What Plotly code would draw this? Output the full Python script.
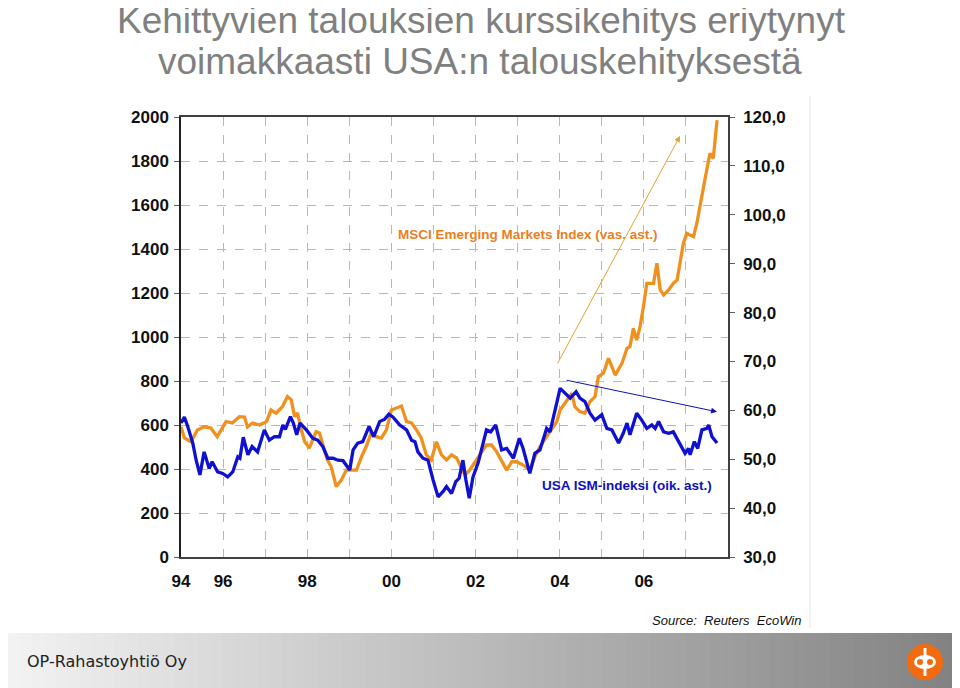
import plotly.graph_objects as go

# ---------------- data ----------------
msci_x = [1995.00, 1995.08, 1995.24, 1995.39, 1995.55, 1995.71, 1995.86, 1996.07, 1996.22, 1996.39,
          1996.51, 1996.58, 1996.70, 1996.87, 1997.03, 1997.14, 1997.26, 1997.41, 1997.53, 1997.62,
          1997.70, 1997.77, 1997.86, 1997.94, 1998.05, 1998.13, 1998.21, 1998.29, 1998.36, 1998.48,
          1998.57, 1998.69, 1998.81, 1998.93, 1999.05, 1999.17, 1999.29, 1999.40, 1999.52, 1999.64,
          1999.76, 1999.88, 2000.00, 2000.12, 2000.24, 2000.36, 2000.48, 2000.60, 2000.71, 2000.83,
          2000.95, 2001.07, 2001.19, 2001.31, 2001.43, 2001.55, 2001.67, 2001.75, 2001.86, 2001.98,
          2002.10, 2002.26, 2002.38, 2002.50, 2002.62, 2002.74, 2002.86, 2002.98, 2003.13, 2003.29,
          2003.41, 2003.53, 2003.69, 2003.93, 2004.01, 2004.17, 2004.29, 2004.36, 2004.48, 2004.60,
          2004.72, 2004.84, 2004.92, 2005.04, 2005.16, 2005.24, 2005.32, 2005.48, 2005.60, 2005.67,
          2005.75, 2005.83, 2005.91, 2005.99, 2006.07, 2006.23, 2006.31, 2006.39, 2006.47, 2006.59,
          2006.70, 2006.79, 2006.86, 2006.94, 2007.02, 2007.10, 2007.18, 2007.26, 2007.34, 2007.45,
          2007.57, 2007.65, 2007.74]
msci_y = [592, 541, 524, 577, 592, 586, 547, 615, 609, 638,
          636, 591, 609, 600, 615, 668, 654, 683, 729, 714,
          638, 654, 577, 524, 495, 532, 570, 564, 518, 441,
          410, 320, 350, 395, 395, 395, 456, 501, 564, 547,
          541, 577, 668, 677, 686, 615, 609, 577, 541, 464,
          441, 524, 464, 441, 464, 450, 405, 373, 395, 433,
          464, 509, 509, 479, 433, 395, 433, 433, 418, 395,
          456, 501, 547, 615, 668, 714, 744, 683, 661, 654,
          706, 729, 820, 835, 903, 865, 827, 880, 949, 956,
          1039, 986, 1047, 1138, 1244, 1244, 1335, 1214, 1191, 1214,
          1244, 1259, 1335, 1426, 1471, 1464, 1456, 1517, 1608, 1714,
          1835, 1812, 1986]

ism_x = [1995.00, 1995.08, 1995.16, 1995.28, 1995.36, 1995.45, 1995.55, 1995.67, 1995.74, 1995.87,
         1995.99, 1996.11, 1996.23, 1996.35, 1996.40, 1996.48, 1996.59, 1996.69, 1996.82, 1996.98,
         1997.10, 1997.22, 1997.34, 1997.42, 1997.48, 1997.60, 1997.67, 1997.75, 1997.83, 1997.98,
         1998.13, 1998.25, 1998.37, 1998.49, 1998.61, 1998.73, 1998.85, 1999.01, 1999.09, 1999.20,
         1999.32, 1999.47, 1999.58, 1999.72, 1999.84, 1999.94, 2000.04, 2000.20, 2000.36, 2000.48,
         2000.56, 2000.63, 2000.75, 2000.87, 2000.99, 2001.11, 2001.23, 2001.31, 2001.43, 2001.53,
         2001.61, 2001.70, 2001.77, 2001.85, 2001.94, 2002.06, 2002.14, 2002.26, 2002.36, 2002.48,
         2002.62, 2002.74, 2002.90, 2003.04, 2003.13, 2003.29, 2003.41, 2003.53, 2003.69, 2003.77,
         2004.01, 2004.13, 2004.25, 2004.39, 2004.48, 2004.60, 2004.72, 2004.84, 2005.00, 2005.12,
         2005.24, 2005.40, 2005.51, 2005.60, 2005.67, 2005.83, 2005.95, 2006.07, 2006.19, 2006.27,
         2006.35, 2006.47, 2006.59, 2006.70, 2006.86, 2006.98, 2007.06, 2007.10, 2007.20, 2007.28,
         2007.38, 2007.50, 2007.54, 2007.62, 2007.74]
ism_y = [57.4, 58.6, 56.7, 53.3, 49.8, 46.8, 51.5, 48.1, 49.5, 47.4,
         47.1, 46.4, 47.4, 50.5, 50.2, 54.5, 50.9, 52.6, 51.5, 56.0,
         53.9, 54.6, 54.6, 57.0, 56.1, 58.7, 57.4, 55.0, 57.4, 56.0,
         54.3, 53.9, 52.6, 50.2, 50.2, 49.8, 49.7, 47.8, 51.9, 53.3,
         53.6, 56.7, 54.6, 57.7, 58.2, 59.2, 58.6, 57.0, 56.0, 53.9,
         53.6, 51.5, 50.2, 49.8, 45.8, 42.3, 43.4, 44.4, 43.0, 45.4,
         46.1, 49.8, 45.8, 42.0, 46.4, 49.2, 51.9, 56.0, 55.6, 57.0,
         51.9, 52.2, 50.2, 54.3, 52.2, 47.1, 51.2, 51.9, 56.3, 55.6,
         64.5, 63.5, 62.5, 63.8, 62.5, 61.8, 59.4, 58.0, 59.1, 56.3,
         56.0, 53.3, 55.3, 57.4, 55.0, 59.4, 58.0, 56.3, 57.0, 56.3,
         57.7, 55.6, 55.3, 55.6, 52.9, 51.2, 52.2, 50.9, 53.6, 52.2,
         56.0, 56.3, 57.0, 54.6, 53.3]

x_tickvals = list(range(1995, 2009))
x_ticktext = ["94", "96", "", "98", "", "00", "", "02", "", "04", "", "06", "", ""]
left_ticks = list(range(0, 2001, 200))
right_ticks = list(range(30, 121, 10))

# trend arrows (start -> end)
msci_arrow = [(2003.93, 873), (2006.86, 1914)]
ism_arrow = [(2004.13, 805), (2007.74, 660)]

ORANGE = "#F0901E"
BLUE = "#1010D0"
FONT = "Liberation Sans, Arial, sans-serif"

fig = go.Figure()
fig.add_trace(go.Scatter(x=msci_x, y=msci_y, mode="lines", line=dict(color=ORANGE, width=3.3),
                         name="MSCI Emerging Markets Index (vas. ast.)", yaxis="y"))
fig.add_trace(go.Scatter(x=ism_x, y=ism_y, mode="lines", line=dict(color=BLUE, width=3.3),
                         name="USA ISM-indeksi (oik. ast.)", yaxis="y2"))

# the page is rendered with an 8px body margin; work in target-pixel coords
OFF = 8
W, H = 960 - OFF, 688 - OFF
L, R, T, B = 181, 728, 117, 557   # target pixel positions of the plot area
pw, ph = R - L, B - T


def px(x):
    return (x - L) / pw


def py(y):
    return (B - y) / ph


shapes = []
# footer gradient
n = 80
c0 = (242, 242, 242)
c1 = (130, 130, 130)
for i in range(n):
    t = i / (n - 1)
    c = tuple(int(round(c0[k] + (c1[k] - c0[k]) * t)) for k in range(3))
    xa = OFF + (960 - OFF) * i / n
    xb = OFF + (960 - OFF) * (i + 1) / n + 0.8
    shapes.append(dict(type="rect", xref="paper", yref="paper",
                       x0=px(xa), x1=px(xb), y0=py(633), y1=py(690),
                       fillcolor="rgb(%d,%d,%d)" % c, line=dict(width=0), layer="below"))
# logo
cx, cy, r = 925, 662, 18
shapes.append(dict(type="circle", xref="paper", yref="paper",
                   x0=px(cx - r), x1=px(cx + r), y0=py(cy + r), y1=py(cy - r),
                   fillcolor="#F26B10", line=dict(width=0)))
shapes.append(dict(type="circle", xref="paper", yref="paper",
                   x0=px(cx - 11), x1=px(cx + 11), y0=py(cy + 7), y1=py(cy - 7),
                   fillcolor="white", line=dict(width=0)))
for dx in (-5, 5):
    shapes.append(dict(type="circle", xref="paper", yref="paper",
                       x0=px(cx + dx - 3), x1=px(cx + dx + 3), y0=py(cy + 3), y1=py(cy - 3),
                       fillcolor="#F26B10", line=dict(width=0)))
shapes.append(dict(type="rect", xref="paper", yref="paper",
                   x0=px(cx - 1.5), x1=px(cx + 1.5), y0=py(cy + 14), y1=py(cy - 14),
                   fillcolor="white", line=dict(width=0)))
# slide separator line
shapes.append(dict(type="line", xref="paper", yref="paper",
                   x0=px(810), x1=px(810), y0=py(96), y1=py(628),
                   line=dict(color="#e4e4e4", width=1)))

annotations = [
    dict(text="Kehittyvien talouksien kurssikehitys eriytynyt", xref="paper", yref="paper",
         x=px(481), y=py(20), yanchor="middle", showarrow=False,
         font=dict(family=FONT, size=37, color="#808080")),
    dict(text="voimakkaasti USA:n talouskehityksestä", xref="paper", yref="paper",
         x=px(480), y=py(61), yanchor="middle", showarrow=False,
         font=dict(family=FONT, size=37, color="#808080")),
    dict(text="<b>MSCI Emerging Markets Index (vas. ast.)</b>", xref="x", yref="y",
         x=2000.10, y=1464, xanchor="left", yanchor="middle", showarrow=False,
         font=dict(family=FONT, size=13.5, color="#E8801E")),
    dict(text="<b>USA ISM-indeksi (oik. ast.)</b>", xref="x", yref="y",
         x=2003.53, y=323, xanchor="left", yanchor="middle", showarrow=False,
         font=dict(family=FONT, size=13.5, color="#1010C0")),
    dict(text="<i>Source:  Reuters  EcoWin</i>", xref="paper", yref="paper",
         x=px(803), y=py(620), xanchor="right", yanchor="middle", showarrow=False,
         font=dict(family=FONT, size=13, color="#111111")),
    dict(text="OP-Rahastoyhtiö Oy", xref="paper", yref="paper",
         x=px(25), y=py(661), xanchor="left", yanchor="middle", showarrow=False,
         font=dict(family="DejaVu Sans, Verdana, sans-serif", size=16, color="#222222")),
    # arrows
    dict(x=msci_arrow[1][0], y=msci_arrow[1][1], ax=msci_arrow[0][0], ay=msci_arrow[0][1],
         xref="x", yref="y", axref="x", ayref="y", text="", showarrow=True,
         arrowhead=2, arrowsize=1.2, arrowwidth=1, arrowcolor="#E8A030"),
    dict(x=ism_arrow[1][0], y=ism_arrow[1][1], ax=ism_arrow[0][0], ay=ism_arrow[0][1],
         xref="x", yref="y", axref="x", ayref="y", text="", showarrow=True,
         arrowhead=2, arrowsize=1.2, arrowwidth=1, arrowcolor="#1010C0"),
]

tickfont = dict(family=FONT, size=17, color="#111111", weight="bold")

fig.update_layout(
    width=W, height=H,
    margin=dict(l=L - OFF, r=W - (R - OFF), t=T - OFF, b=H - (B - OFF), pad=0),
    paper_bgcolor="white", plot_bgcolor="white",
    showlegend=False,
    separators=", ",
    shapes=shapes,
    annotations=annotations,
    xaxis=dict(range=[1995, 2008], tickvals=x_tickvals, ticktext=x_ticktext,
               showgrid=True, gridcolor="#b8b8b8", griddash="dash", gridwidth=1,
               showline=True, linecolor="#404040", linewidth=1.5, mirror=True,
               ticks="", tickfont=tickfont,
               ticklabelstandoff=8, zeroline=False, fixedrange=True),
    yaxis=dict(range=[0, 2000], tickvals=left_ticks, showgrid=True, gridcolor="#b8b8b8",
               griddash="dash", gridwidth=1, showline=True, linecolor="#202020", linewidth=1.5,
               ticks="outside", ticklen=5, tickcolor="#606060", tickfont=tickfont,
               ticklabelstandoff=2, zeroline=False),
    yaxis2=dict(range=[30, 120], tickvals=right_ticks, tickformat=".1f", overlaying="y",
                side="right", showgrid=False, showline=True, linecolor="#404040", linewidth=1.5,
                ticks="outside", ticklen=5, tickcolor="#606060", tickfont=tickfont,
                ticklabelstandoff=5, zeroline=False),
)

fig.write_html("out.html")
